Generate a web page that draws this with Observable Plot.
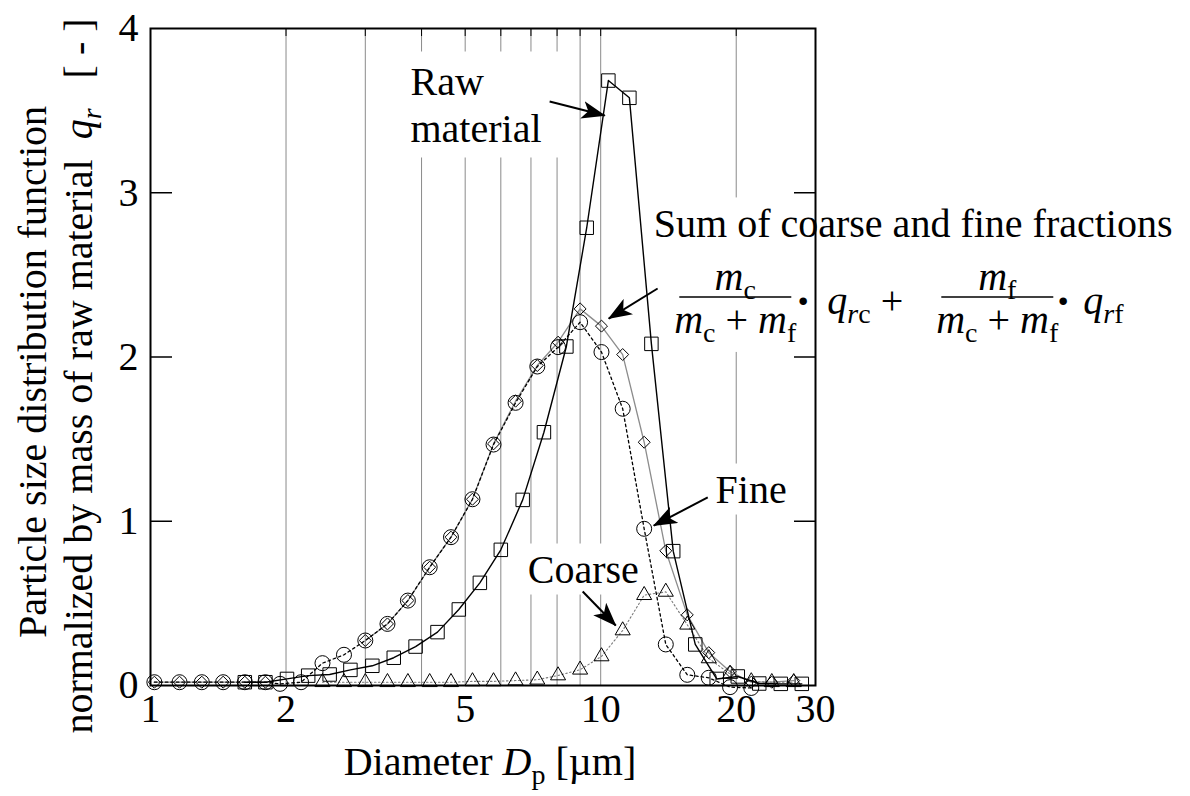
<!DOCTYPE html>
<html>
<head>
<meta charset="utf-8">
<script src="https://cdn.jsdelivr.net/npm/d3@7"></script>
<script src="https://cdn.jsdelivr.net/npm/@observablehq/plot@0.6"></script>
<style>
  html, body { margin: 0; padding: 0; background: #fff; }
  #chart { width: 1190px; height: 796px; }
  svg text { font-family: "Liberation Serif", "Times New Roman", serif; }
</style>
</head>
<body>
<div id="chart"></div>
<script>
// ---------- data ----------
const rawDiameter = [1.62, 1.80, 2.01, 2.24, 2.50, 2.78, 3.11, 3.47, 3.88, 4.34, 4.84, 5.39, 6.00, 6.71, 7.48, 8.39, 9.31, 10.40, 11.58, 12.96, 14.49, 16.22, 18.10, 20.16, 22.50, 25.12, 27.97];
const rawQr = [0.02, 0.02, 0.04, 0.06, 0.067, 0.095, 0.12, 0.169, 0.237, 0.325, 0.463, 0.625, 0.826, 1.13, 1.542, 2.064, 2.787, 3.683, 3.578, 2.08, 0.818, 0.25, 0.04, 0.055, 0.012, 0.01, 0.01];

const splitDiameter = [1.02, 1.16, 1.30, 1.45, 1.62, 1.80, 1.94, 2.16, 2.41, 2.69, 3.00, 3.36, 3.73, 4.17, 4.65, 5.19, 5.78, 6.47, 7.23, 8.04, 9.00, 10.04, 11.19, 12.49, 13.95, 15.57, 17.38, 19.38, 21.60, 23.99, 26.84];
const fineQr = [0.02, 0.02, 0.02, 0.02, 0.02, 0.02, 0.01, 0.02, 0.136, 0.187, 0.274, 0.375, 0.517, 0.72, 0.903, 1.134, 1.467, 1.721, 1.942, 2.06, 2.212, 2.03, 1.685, 0.954, 0.25, 0.065, 0.047, -0.01, -0.015, null, null];
const coarseQr = [null, null, null, null, null, null, null, null, 0.02, 0.02, 0.02, 0.02, 0.02, 0.02, 0.02, 0.025, 0.025, 0.03, 0.035, 0.061, 0.096, 0.177, 0.335, 0.55, 0.57, 0.37, 0.165, 0.07, 0.025, 0.02, 0.02];
const sumQr = [0.02, 0.02, 0.02, 0.02, 0.02, 0.02, null, null, null, null, 0.274, 0.375, 0.517, 0.72, 0.903, 1.134, 1.471, 1.731, 1.948, 2.09, 2.293, 2.188, 2.015, 1.481, 0.82, 0.43, 0.2, 0.085, 0.02, 0.02, 0.03];

const xTickValues = [1, 2, 5, 10, 20, 30];
const yTickValues = [0, 1, 2, 3, 4];
const yInnerTicks = [1, 2, 3];
const gridValues = [2, 3, 4, 5, 6, 7, 8, 9, 10, 20];

// annotation anchors (data coordinates)
const labelsStart = [
  {text: "Raw\nmaterial", d: 3.78, q: 3.306},
  {text: "Sum of coarse and fine fractions", d: 13.12, q: 2.728},
  {text: "Fine", d: 18.0, q: 1.114}
];
const labelsEnd = [
  {text: "Coarse", d: 12.15, q: 0.627}
];
const arrows = [
  {d1: 7.70, q1: 3.556, d2: 10.21, q2: 3.470},
  {d1: 13.38, q1: 2.417, d2: 10.42, q2: 2.234},
  {d1: 17.29, q1: 1.145, d2: 13.12, q2: 0.974},
  {d1: 9.12, q1: 0.572, d2: 10.80, q2: 0.365}
];

// ---------- tables ----------
const rawData = rawDiameter.map((d, i) => ({d, q: rawQr[i]}));
const splitData = splitDiameter.map((d, i) => ({d, fine: fineQr[i], coarse: coarseQr[i], sum: sumQr[i]}));

const FONT = "Liberation Serif, Times New Roman, serif";
const curve = "linear";

const chart = Plot.plot({
  width: 1190,
  height: 796,
  marginLeft: 150,
  marginRight: 375,
  marginTop: 28,
  marginBottom: 111,
  style: {fontFamily: FONT, fontSize: "40px", background: "white", color: "black", overflow: "visible"},
  x: {type: "log", domain: [1, 30]},
  y: {domain: [0, 4]},
  marks: [
    Plot.ruleX(gridValues, {x: d => d, stroke: "#8a8a8a", strokeWidth: 1}),
    Plot.axisX({anchor: "top", ticks: gridValues, tickSize: 7, dy: 7, tickFormat: () => "", label: null, stroke: "black"}),
    Plot.axisY({anchor: "left", ticks: yInnerTicks, tickSize: 22, dx: 22, tickFormat: () => "", label: null, strokeWidth: 1.5}),
    Plot.axisY({anchor: "right", ticks: yInnerTicks, tickSize: 22, dx: -22, tickFormat: () => "", label: null, strokeWidth: 1.5}),
    Plot.axisY({anchor: "left", ticks: yTickValues, tickSize: 0, tickPadding: 12, label: null, fontSize: 40, tickFormat: d => String(d)}),
    Plot.axisX({anchor: "bottom", ticks: xTickValues, tickSize: 0, tickPadding: 8, label: null, fontSize: 40, tickFormat: d => String(d)}),

    // Sum (gray solid, diamonds)
    Plot.line(splitData, {x: "d", y: "sum", curve, stroke: "#8c8c8c", strokeWidth: 1.3}),
    // Coarse (gray dotted, triangles)
    Plot.line(splitData, {x: "d", y: "coarse", curve, stroke: "#7a7a7a", strokeWidth: 1.1, strokeDasharray: "1.5,2.5"}),
    // Fine (black dotted, circles)
    Plot.line(splitData, {x: "d", y: "fine", curve, stroke: "black", strokeWidth: 1.3, strokeDasharray: "2.5,3"}),
    // Raw (black solid, squares)
    Plot.line(rawData, {x: "d", y: "q", curve, stroke: "black", strokeWidth: 1.4}),

    Plot.dot(splitData, {x: "d", y: "sum", symbol: "diamond2", r: 5.4, stroke: "black", fill: "none", strokeWidth: 1}),
    Plot.dot(splitData, {x: "d", y: "coarse", symbol: "triangle", r: 5.6, stroke: "black", fill: "none", strokeWidth: 1}),
    Plot.dot(splitData, {x: "d", y: "fine", symbol: "circle", r: 7.5, stroke: "black", fill: "none", strokeWidth: 1}),
    Plot.dot(rawData, {x: "d", y: "q", symbol: "square", r: 7.6, stroke: "black", fill: "none", strokeWidth: 1}),

    Plot.frame({stroke: "black", strokeWidth: 2}),

    Plot.text(labelsStart, {x: "d", y: "q", text: "text", textAnchor: "start", lineAnchor: "bottom", lineHeight: 1.175, fontSize: 40, fill: "black"}),
    Plot.text(labelsEnd, {x: "d", y: "q", text: "text", textAnchor: "end", lineAnchor: "bottom", fontSize: 40, fill: "black"}),
    Plot.link(arrows, {x1: "d1", y1: "q1", x2: "d2", y2: "q2", stroke: "black", strokeWidth: 2})
  ]
});

document.getElementById("chart").appendChild(chart);

// ---------- post-processing: rich text, arrowheads, label backgrounds ----------
const svg = d3.select(chart);
const xs = chart.scale("x"), ys = chart.scale("y");

function rich(textSel, parts) {
  let shift = 0;
  for (const p of parts) {
    const ts = textSel.append("tspan").text(p.t);
    const want = p.sub ? 9 : 0;
    if (want !== shift) { ts.attr("dy", want - shift); shift = want; }
    if (p.i) ts.attr("font-style", "italic");
    if (p.sub) ts.attr("font-size", 28);
  }
  return textSel;
}

// arrowheads
const ns = "http://www.w3.org/2000/svg";
const defsNode = document.createElementNS(ns, "defs");
chart.insertBefore(defsNode, chart.firstChild);
const marker = d3.select(defsNode).append("marker")
  .attr("id", "ahead").attr("viewBox", "0 0 24 18").attr("refX", 23).attr("refY", 9)
  .attr("markerWidth", 24).attr("markerHeight", 18).attr("markerUnits", "userSpaceOnUse").attr("orient", "auto");
marker.append("path").attr("d", "M0,0L24,9L0,18L6,9Z").attr("fill", "black").attr("stroke", "none");
chart.querySelectorAll('g[aria-label="link"] path').forEach(p => p.setAttribute("marker-end", "url(#ahead)"));

// formula under "Sum of coarse and fine fractions"
const ax = xs.apply(13.12), ay = ys.apply(2.728);
const fg = svg.append("g").attr("class", "formula").attr("transform", `translate(${ax},${ay})`)
  .attr("font-family", FONT).attr("font-size", 40).attr("fill", "black").attr("text-anchor", "start");

function fraction(cx, numParts) {
  rich(fg.append("text").attr("x", cx).attr("y", 53).attr("text-anchor", "middle"), numParts);
  fg.append("line").attr("x1", cx - 56).attr("x2", cx + 56).attr("y1", 60).attr("y2", 60)
    .attr("stroke", "black").attr("stroke-width", 1.6);
  rich(fg.append("text").attr("x", cx).attr("y", 96).attr("text-anchor", "middle").style("white-space", "pre"),
    [{t: "m", i: true}, {t: "c", sub: true}, {t: " + "}, {t: "m", i: true}, {t: "f", sub: true}]);
}
fraction(82, [{t: "m", i: true}, {t: "c", sub: true}]);
fg.append("text").attr("x", 150).attr("y", 80).attr("text-anchor", "middle").attr("font-size", 46).attr("font-weight", "bold").text("·");
rich(fg.append("text").attr("x", 174).attr("y", 77).attr("text-anchor", "start").style("white-space", "pre"),
  [{t: "q", i: true}, {t: "r", i: true, sub: true}, {t: "c", sub: true}, {t: " +"}]);
fraction(344, [{t: "m", i: true}, {t: "f", sub: true}]);
fg.append("text").attr("x", 410).attr("y", 80).attr("text-anchor", "middle").attr("font-size", 46).attr("font-weight", "bold").text("·");
rich(fg.append("text").attr("x", 430).attr("y", 77).attr("text-anchor", "start"),
  [{t: "q", i: true}, {t: "r", i: true, sub: true}, {t: "f", sub: true}]);

// axis titles
const titles = svg.append("g").attr("font-family", FONT).attr("font-size", 40).attr("fill", "black");
titles.append("text").attr("transform", "translate(46,372) rotate(-90)").attr("text-anchor", "middle")
  .text("Particle size distribution function");
rich(titles.append("text").attr("transform", "translate(92,376) rotate(-90)").attr("text-anchor", "middle").style("white-space", "pre"),
  [{t: "normalized by mass of raw material  "}, {t: "q", i: true}, {t: "r", i: true, sub: true}, {t: "   [ - ]"}]);
rich(titles.append("text").attr("x", 490).attr("y", 775).attr("text-anchor", "middle").style("white-space", "pre"),
  [{t: "Diameter "}, {t: "D", i: true}, {t: "p", sub: true}, {t: " [µm]"}]);

// white boxes behind the labels (interrupting the grid lines only)
const firstLine = chart.querySelector('g[aria-label="line"]');
const bgNode = document.createElementNS(ns, "g");
chart.insertBefore(bgNode, firstLine);
const bg = d3.select(bgNode);
const root = chart.getBoundingClientRect();
function box(nodes, pad) {
  let x0 = Infinity, y0 = Infinity, x1 = -Infinity, y1 = -Infinity;
  for (const n of nodes) {
    const b = n.getBoundingClientRect();
    x0 = Math.min(x0, b.left); y0 = Math.min(y0, b.top); x1 = Math.max(x1, b.right); y1 = Math.max(y1, b.bottom);
  }
  bg.append("rect").attr("x", x0 - root.left - pad[3]).attr("y", y0 - root.top - pad[0])
    .attr("width", x1 - x0 + pad[1] + pad[3]).attr("height", y1 - y0 + pad[0] + pad[2]).attr("fill", "white");
}
const labelNodes = chart.querySelectorAll('g[aria-label="text"] text');
labelNodes.forEach((n, i) => {
  if (i === 1) box([n, fg.node()], [4, 6, 4, 6]);
  else if (i === 0) box([n], [8, 22, 6, 6]);
  else box([n], [3, 5, 3, 5]);
});
</script>
</body>
</html>
